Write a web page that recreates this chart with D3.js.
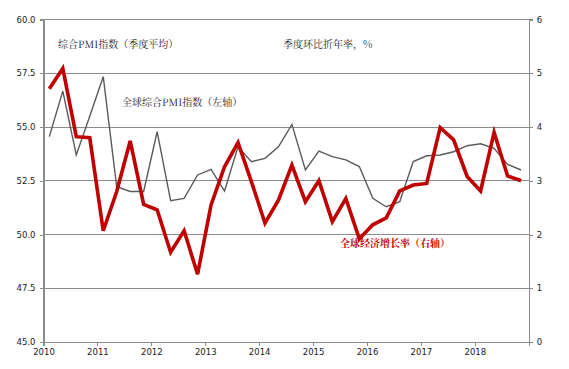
<!DOCTYPE html>
<html><head><meta charset="utf-8">
<script src="https://cdn.jsdelivr.net/npm/d3@7"></script>
<style>
body{margin:0;background:#fff;}
svg text{font-family:"DejaVu Sans",Verdana,sans-serif;}
.cjk{font-family:"Noto Serif CJK SC","Noto Sans CJK SC",serif;}
</style></head>
<body><svg id="c" width="569" height="369"></svg>
<script>
const years = [2010,2011,2012,2013,2014,2015,2016,2017,2018];
const quarters = [];
years.forEach(y => [1,2,3,4].forEach(q => quarters.push(y + "Q" + q)));
const pmi = [54.55,56.67,53.70,55.5,57.34,52.22,52.0,52.0,54.78,51.57,51.68,52.77,
             53.03,52.02,54.08,53.39,53.54,54.08,55.12,53.0,53.88,53.62,53.47,53.16,
             51.68,51.29,51.53,53.39,53.66,53.70,53.85,54.13,54.22,54.01,53.26,53.0];
const growth = [4.71,5.09,3.82,3.80,2.07,2.80,3.74,2.56,2.46,1.67,2.07,1.26,
                2.55,3.26,3.71,2.98,2.21,2.64,3.29,2.61,3.00,2.24,2.67,1.92,
                2.18,2.31,2.81,2.92,2.95,3.99,3.76,3.08,2.81,3.90,3.09,3.00];
const leftTicks = [45,47.5,50,52.5,55,57.5,60];
const rightTicks = [0,1,2,3,4,5,6];
const xTickYears = [2010,2011,2012,2013,2014,2015,2016,2017,2018];

const svg = d3.select("#c");
const L = 43.5, R = 528.7, T = 19.5, B = 342;
const x = d3.scaleLinear().domain([2010, 2019]).range([L, R]);
const yL = d3.scaleLinear().domain([45, 60]).range([B, T]);
const yR = d3.scaleLinear().domain([0, 6]).range([B, T]);
const qPos = s => { const y = +s.slice(0,4), q = +s.slice(5); return y + (q-1)/4 + 0.108; };

// gridlines
svg.append("g").selectAll("line").data(leftTicks.slice(1)).join("line")
  .attr("x1", L).attr("x2", R).attr("y1", d => yL(d)).attr("y2", d => yL(d))
  .attr("stroke", "#8c8c8c").attr("stroke-width", 1).attr("shape-rendering","crispEdges");

// left axis
const axL = svg.append("g").attr("transform", `translate(${L},0)`)
  .call(d3.axisLeft(yL).tickValues(leftTicks).tickFormat(d3.format(".1f")).tickSize(4).tickPadding(4));
// right axis
const axR = svg.append("g").attr("transform", `translate(${R},0)`)
  .call(d3.axisRight(yR).tickValues(rightTicks).tickFormat(d3.format("d")).tickSize(4).tickPadding(4));
// bottom axis
const axB = svg.append("g").attr("transform", `translate(0,${B})`)
  .call(d3.axisBottom(x).tickValues(xTickYears.concat([2019])).tickFormat(d => d === 2019 ? "" : d).tickSize(4).tickPadding(3));
[axL, axR, axB].forEach(a => {
  a.selectAll("path,line").attr("stroke", "#8c8c8c").attr("shape-rendering","crispEdges");
  a.select(".domain").attr("stroke-width", 1.2);
  a.selectAll("text").attr("font-size", "8.5px").attr("fill", "#1a1a1a").attr("font-family","DejaVu Sans, Verdana, sans-serif");
});

// lines
const lineL = d3.line().x((d,i) => x(qPos(quarters[i]))).y(d => yL(d));
const lineR = d3.line().x((d,i) => x(qPos(quarters[i]))).y(d => yR(d));
svg.append("path").datum(pmi).attr("d", lineL).attr("fill","none")
  .attr("stroke", "#5a5a5a").attr("stroke-width", 1.4).attr("stroke-linejoin","miter");
svg.append("path").datum(growth).attr("d", lineR).attr("fill","none")
  .attr("stroke", "#c00000").attr("stroke-width", 3.6).attr("stroke-linejoin","miter");

// annotations
const ann = [
  {t:"综合PMI指数（季度平均）", x:58, y:48, c:"#1c1c2e", w:"normal"},
  {t:"季度环比折年率，%", x:283, y:48, c:"#1c1c2e", w:"normal"},
  {t:"全球综合PMI指数（左轴）", x:122, y:106, c:"#1c1c2e", w:"normal"},
  {t:"全球经济增长率（右轴）", x:340, y:247, c:"#c00000", w:"bold"}
];
svg.append("g").selectAll("text").data(ann).join("text")
  .attr("class","cjk").attr("x", d => d.x).attr("y", d => d.y)
  .attr("font-size","10px").attr("fill", d => d.c).attr("font-weight", d => d.w)
  .text(d => d.t);
</script></body></html>
